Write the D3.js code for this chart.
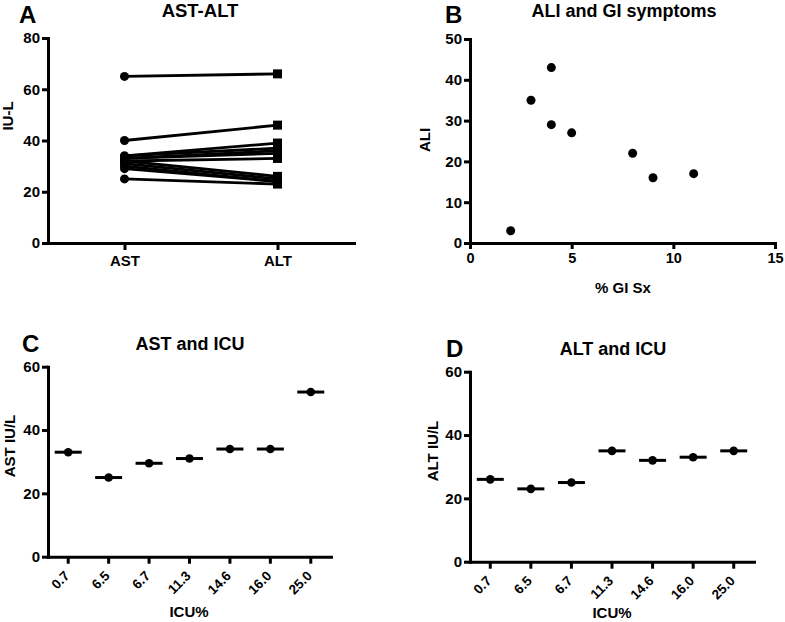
<!DOCTYPE html>
<html>
<head>
<meta charset="utf-8">
<script src="https://cdn.jsdelivr.net/npm/d3@7"></script>
<style>
  html, body { margin: 0; padding: 0; background: #fff; }
  svg { display: block; }
  text { font-family: "Liberation Sans", Arial, sans-serif; font-weight: bold; fill: #000; }
</style>
</head>
<body>
<svg id="chart" width="785" height="622"></svg>
<script>
// ---------- DATA ----------
// Panel A: paired AST -> ALT per subject
const pairGroups = ["AST", "ALT"];
const astPaired = [65, 40, 34, 34, 33, 33, 32, 32, 31, 30, 29, 25];
const altPaired = [66, 46, 39, 37, 36, 35, 33, 26, 25, 24, 24, 23];
const yTicksA = [0, 20, 40, 60, 80];

// Panel B: ALI vs % GI symptoms
const giSx = [2, 3, 4, 4, 5, 8, 9, 11];
const ali  = [3, 35, 43, 29, 27, 22, 16, 17];
const xTicksB = [0, 5, 10, 15];
const yTicksB = [0, 10, 20, 30, 40, 50];

// Panels C, D: AST / ALT by ICU%
const icuCats = ["0.7", "6.5", "6.7", "11.3", "14.6", "16.0", "25.0"];
const astIcu = [33, 25, 29.5, 31, 34, 34, 52];
const altIcu = [26, 23, 25, 35, 32, 33, 35];
const yTicksCD = [0, 20, 40, 60];

// ---------- DRAW ----------
const svg = d3.select("#chart");
const AXW = 3;

function styleAxis(g, fs) {
  g.attr("font-size", null).attr("font-family", null);
  g.selectAll("path.domain").attr("stroke", "#000").attr("stroke-width", AXW).attr("stroke-linecap", "square");
  g.selectAll(".tick line").attr("stroke", "#000").attr("stroke-width", AXW);
  g.selectAll(".tick text").style("font-family", "'Liberation Sans', Arial, sans-serif")
    .style("font-weight", "bold").style("font-size", fs + "px").attr("fill", "#000");
}
function txt(x, y, s, size, anchor, rot) {
  const t = svg.append("text").attr("font-size", size).attr("text-anchor", anchor || "middle").text(s);
  if (rot) t.attr("transform", `translate(${x},${y}) rotate(${rot})`);
  else t.attr("x", x).attr("y", y);
  return t;
}

// ===== Panel A =====
{
  const x = d3.scalePoint().domain(pairGroups).range([48, 354]).padding(0.5);
  const y = d3.scaleLinear().domain([0, 80]).range([243, 38]);
  const gy = svg.append("g").attr("transform", "translate(48,0)")
    .call(d3.axisLeft(y).tickValues(yTicksA).tickSize(6).tickSizeOuter(0).tickPadding(2));
  styleAxis(gy, 15);
  const gx = svg.append("g").attr("transform", "translate(0,243)")
    .call(d3.axisBottom(x).tickSize(7).tickSizeOuter(0).tickPadding(5));
  styleAxis(gx, 15);
  const g = svg.append("g");
  astPaired.forEach((a, i) => {
    g.append("line").attr("x1", x("AST")).attr("y1", y(a)).attr("x2", x("ALT")).attr("y2", y(altPaired[i]))
      .attr("stroke", "#000").attr("stroke-width", 2.8);
  });
  g.selectAll("circle").data(astPaired).join("circle")
    .attr("cx", x("AST")).attr("cy", d => y(d)).attr("r", 4.5).attr("fill", "#000");
  g.selectAll("rect").data(altPaired).join("rect")
    .attr("x", x("ALT") - 4.5).attr("y", d => y(d) - 4.5).attr("width", 9).attr("height", 9).attr("fill", "#000");
  txt(200, 17, "AST-ALT", 18.5);
  txt(19, 23, "A", 24, "start");
  txt(13, 116, "IU-L", 15, "middle", -90);
}

// ===== Panel B =====
{
  const x = d3.scaleLinear().domain([0, 15]).range([470, 775]);
  const y = d3.scaleLinear().domain([0, 50]).range([243, 39]);
  const gy = svg.append("g").attr("transform", "translate(470,0)")
    .call(d3.axisLeft(y).tickValues(yTicksB).tickSize(6).tickSizeOuter(0).tickPadding(2));
  styleAxis(gy, 15);
  const gx = svg.append("g").attr("transform", "translate(0,243)")
    .call(d3.axisBottom(x).tickValues(xTicksB).tickSize(6).tickSizeOuter(0).tickPadding(4));
  styleAxis(gx, 14.5);
  svg.append("g").selectAll("circle").data(giSx).join("circle")
    .attr("cx", d => x(d)).attr("cy", (d, i) => y(ali[i])).attr("r", 4.5).attr("fill", "#000");
  txt(624, 17, "ALI and GI symptoms", 18);
  txt(445, 23, "B", 24, "start");
  txt(430, 140, "ALI", 15, "middle", -90);
  txt(623, 293, "% GI Sx", 15);
}

// ===== Panels C & D =====
function icuPanel(x0, x1, yTop, yBot, vals, title, titleX, titleY, letter, lx, ly, ylab, ylx, yly, xlabX, xlabY) {
  const x = d3.scaleBand().domain(icuCats).range([x0, x1]);
  const y = d3.scaleLinear().domain([0, 60]).range([yBot, yTop]);
  const gy = svg.append("g").attr("transform", `translate(${x0},0)`)
    .call(d3.axisLeft(y).tickValues(yTicksCD).tickSize(6).tickSizeOuter(0).tickPadding(2));
  styleAxis(gy, 15);
  const gx = svg.append("g").attr("transform", `translate(0,${yBot})`)
    .call(d3.axisBottom(x).tickSize(7).tickSizeOuter(0).tickPadding(4));
  styleAxis(gx, 13.5);
  gx.selectAll(".tick text").attr("text-anchor", "end").attr("y", 0).attr("dy", "0")
    .attr("transform", "translate(2,20) rotate(-45)");
  const g = svg.append("g");
  const c = d => x(d) + x.bandwidth() / 2;
  g.selectAll("line").data(icuCats).join("line")
    .attr("x1", d => c(d) - 13.5).attr("x2", d => c(d) + 13.5)
    .attr("y1", (d, i) => y(vals[i])).attr("y2", (d, i) => y(vals[i]))
    .attr("stroke", "#000").attr("stroke-width", 3);
  g.selectAll("circle").data(icuCats).join("circle")
    .attr("cx", d => c(d)).attr("cy", (d, i) => y(vals[i])).attr("r", 4.3).attr("fill", "#000");
  txt(titleX, titleY, title, 18);
  txt(lx, ly, letter, 24, "start");
  txt(ylx, yly, ylab, 15, "middle", -90);
  txt(xlabX, xlabY, "ICU%", 15);
}
icuPanel(48, 331, 366.7, 556.7, astIcu, "AST and ICU", 190, 350, "C", 22, 352, "AST IU/L", 15, 446, 189, 617);
icuPanel(470, 754, 371.7, 561.7, altIcu, "ALT and ICU", 613, 355, "D", 446, 357, "ALT IU/L", 438, 451, 612, 618);
</script>
</body>
</html>
